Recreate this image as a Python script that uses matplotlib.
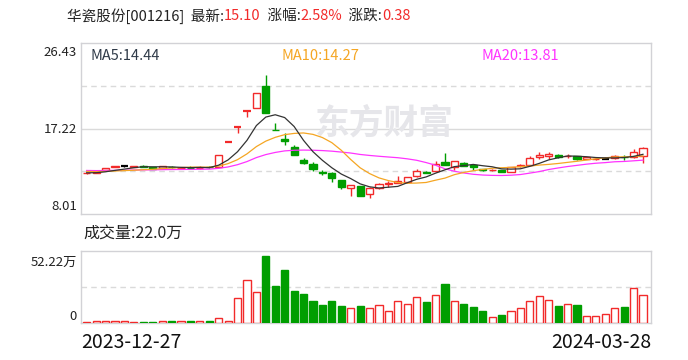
import matplotlib
matplotlib.use('Agg')
import matplotlib.pyplot as plt
import pandas as pd

plt.rcParams['font.family'] = ['Noto Sans CJK SC', 'DejaVu Sans']

# daily k-line, 2023-12-27 .. 2024-03-28 (60 trading days)
opens = [12.38, 12.45, 12.75, 13.12, 13.15, 13.12, 13.22, 13.04, 12.96, 13.10,
         12.92, 13.00, 12.98, 13.07, 13.07, 15.80, 17.38, 19.12, 19.40, 21.80,
         17.08, 16.09, 15.26, 13.83, 13.40, 12.54, 12.40, 11.64, 10.78, 11.06,
         10.16, 10.78, 11.24, 11.35, 11.46, 12.08, 12.56, 12.60, 13.61, 13.11,
         13.50, 13.28, 12.86, 12.72, 12.78, 12.56, 13.18, 13.28, 14.20, 14.26,
         14.32, 14.22, 14.26, 13.95, 13.92, 13.98, 14.02, 14.14, 14.10, 14.28]
highs = [12.44, 12.60, 12.98, 13.18, 13.25, 13.18, 13.28, 13.06, 13.20, 13.16,
         12.98, 13.20, 13.15, 13.22, 14.36, 15.80, 17.38, 19.12, 21.03, 23.00,
         17.78, 16.70, 15.44, 14.01, 13.58, 12.72, 12.57, 11.70, 11.10, 11.06,
         10.95, 11.39, 11.53, 12.05, 12.00, 12.89, 12.62, 13.72, 14.55, 13.70,
         13.60, 13.32, 12.90, 12.82, 12.80, 13.08, 13.40, 14.29, 14.74, 14.65,
         14.50, 14.50, 14.28, 14.12, 14.02, 14.20, 14.32, 14.40, 14.98, 15.28]
lows = [12.33, 12.40, 12.70, 13.10, 13.05, 13.08, 13.10, 12.85, 12.94, 13.00,
        12.88, 12.95, 12.90, 12.92, 13.05, 15.80, 16.70, 18.43, 19.40, 18.93,
        17.04, 15.44, 14.33, 13.36, 12.65, 12.21, 11.43, 10.70, 10.00, 9.98,
        9.77, 10.67, 10.92, 11.32, 11.40, 11.96, 12.42, 12.54, 13.30, 12.75,
        13.15, 12.72, 12.66, 12.68, 12.53, 12.54, 13.02, 13.26, 13.90, 13.90,
        14.00, 14.05, 13.88, 13.92, 13.88, 13.94, 13.98, 13.80, 14.08, 13.55]
closes = [12.42, 12.55, 12.96, 13.15, 13.15, 13.16, 13.12, 12.88, 13.18, 13.05,
          12.95, 12.98, 13.00, 13.05, 14.36, 15.80, 17.38, 19.12, 21.03, 18.93,
          17.04, 15.87, 14.33, 13.54, 12.83, 12.40, 11.86, 10.95, 11.10, 9.98,
          10.81, 11.21, 11.39, 11.53, 11.96, 12.65, 12.48, 13.42, 13.34, 13.68,
          13.21, 13.10, 12.72, 12.78, 12.55, 13.05, 13.30, 14.04, 14.38, 14.42,
          14.18, 14.30, 13.90, 14.10, 13.98, 13.98, 14.30, 14.10, 14.72, 15.10]
# volume in 万手
volumes = [0.5, 1.3, 1.3, 1.3, 1.3, 0.5, 0.5, 0.5, 1.3, 1.3,
           1.3, 1.3, 1.3, 1.3, 4.2, 1.8, 19.1, 33.2, 23.8, 52.22,
           28.7, 41.3, 24.8, 22.7, 17.0, 13.8, 17.0, 13.1, 12.0, 13.1,
           12.0, 13.6, 9.7, 16.7, 15.1, 19.8, 16.2, 21.4, 30.3, 16.7,
           14.6, 12.3, 9.1, 5.0, 6.0, 9.7, 12.0, 16.7, 20.6, 17.5,
           13.1, 14.4, 13.8, 5.7, 5.7, 7.3, 12.0, 12.3, 26.9, 22.0]
# closes before the window, only used so the MA lines start at day one
pre_closes = [12.85, 12.78, 12.82, 12.75, 12.80, 12.86, 12.78, 12.74, 12.80, 12.82,
              12.80, 12.72, 12.76, 12.70, 12.77, 12.52, 12.45, 12.40, 12.46]

first_date = '2023-12-27'
last_date = '2024-03-28'
price_ticks = [26.43, 17.22, 8.01]
vol_max_label = '52.22万'

RED = '#f22a2a'
GREEN = '#009e00'
MA_COLORS = {5: '#333333', 10: '#f5a623', 20: '#ff33ff'}
BORDER = '#d2d2d6'
GRID = '#dadada'

n = len(closes)
allc = pd.Series(pre_closes + closes)
ma = {k: allc.rolling(k).mean().values[len(pre_closes):] for k in (5, 10, 20)}

fig = plt.figure(figsize=(6.88, 3.6), dpi=100)
ax = fig.add_axes([81/688, 146/360, 570/688, 171/360])
axv = fig.add_axes([81/688, 37/360, 570/688, 72/360])

for a in (ax, axv):
    a.set_xticks([])
    a.set_yticks([])
    for s in a.spines.values():
        s.set_color(BORDER)
        s.set_linewidth(1.0)
    a.set_xlim(-0.6, n - 0.15)

ymin, ymax = 8.01, 26.43
ax.set_ylim(ymin, ymax)
mid = (ymin + ymax) / 2
ax.axhline(mid, color=GRID, lw=1.0, zorder=0)
ax.axhline((ymax + mid) / 2, color=GRID, lw=1.0, ls=(0, (4, 3)), zorder=0)
ax.axhline((ymin + mid) / 2, color=GRID, lw=1.0, ls=(0, (4, 3)), zorder=0)

vtop = 55.9
axv.set_ylim(0, vtop)
axv.axhline(vtop / 2, color=GRID, lw=1.0, ls=(0, (4, 3)), zorder=0)

w = 0.76
for i in range(n):
    o, h, l, c = opens[i], highs[i], lows[i], closes[i]
    prev = closes[i - 1] if i > 0 else pre_closes[-1]
    if c > o:
        ax.vlines(i, c, h, color=RED, lw=1.0, zorder=4)
        ax.vlines(i, l, o, color=RED, lw=1.0, zorder=4)
        ax.bar(i, c - o, bottom=o, width=w, facecolor='white', edgecolor=RED,
               lw=1.0, zorder=4)
        vcol = 'up'
    elif c < o:
        ax.vlines(i, l, h, color=GREEN, lw=1.0, zorder=4)
        ax.bar(i, o - c, bottom=c, width=w, color=GREEN, edgecolor=GREEN,
               lw=1.0, zorder=4)
        vcol = 'down'
    else:
        col = RED if c > prev else (GREEN if c < prev else 'black')
        ax.vlines(i, l, h, color=col, lw=1.0, zorder=4)
        ax.hlines(c, i - w / 2, i + w / 2, color=col, lw=1.6, zorder=4)
        vcol = 'down' if c < prev else 'up'
    if vcol == 'up':
        axv.bar(i, volumes[i], width=w, facecolor='white', edgecolor=RED,
                lw=1.0, zorder=3)
    else:
        axv.bar(i, volumes[i], width=w, color=GREEN, edgecolor=GREEN,
                lw=1.0, zorder=3)

x = list(range(n))
for k in (20, 10, 5):
    ax.plot(x, ma[k], color=MA_COLORS[k], lw=0.9, zorder=5)

# watermark
ax.text(0.533, 0.53, '东方财富', transform=ax.transAxes, fontsize=25,
        fontweight='bold', color='#e6e6ea', ha='center', va='center', zorder=1)

# MA legends
ax.text(0.0175, 0.924, 'MA5:%.2f' % ma[5][-1], transform=ax.transAxes,
        fontsize=10.5, color='#2f3a48', va='center')
ax.text(0.351, 0.924, 'MA10:%.2f' % ma[10][-1], transform=ax.transAxes,
        fontsize=10.5, color=MA_COLORS[10], va='center')
ax.text(0.702, 0.924, 'MA20:%.2f' % ma[20][-1], transform=ax.transAxes,
        fontsize=10.5, color=MA_COLORS[20], va='center')

# title line
chg = closes[-1] - closes[-2]
pct = chg / closes[-2] * 100
parts = [('华瓷股份[001216]  最新:', '#222222'), ('%.2f' % closes[-1], RED),
         ('  涨幅:', '#222222'), ('%.2f%%' % pct, RED),
         ('  涨跌:', '#222222'), ('%.2f' % chg, RED)]
fig.canvas.draw()
xpos = 67
for txt, col in parts:
    t = fig.text(xpos / 688, 1 - 16 / 360, txt, fontsize=10.5, color=col,
                 va='center', ha='left')
    bb = t.get_window_extent(renderer=fig.canvas.get_renderer())
    xpos += bb.width

# axis labels
lab = dict(fontsize=9.5, color='#222222', ha='right', va='center')
fig.text(77/688, 1 - 52/360, '%.2f' % price_ticks[0], **lab)
fig.text(77/688, 1 - 129/360, '%.2f' % price_ticks[1], **lab)
fig.text(77/688, 1 - 206/360, '%.2f' % price_ticks[2], **lab)
fig.text(77/688, 1 - 262/360, vol_max_label, **lab)
fig.text(77/688, 1 - 316/360, '0', **lab)

fig.text(83/688, 1 - 233/360, '成交量:%.1f万' % volumes[-1], fontsize=11.5,
         color='#222222', va='center')
fig.text(81/688, 1 - 343/360, first_date, fontsize=14, color='#111111',
         va='center', ha='left')
fig.text(651/688, 1 - 343/360, last_date, fontsize=14, color='#111111',
         va='center', ha='right')

fig.savefig('out.png', dpi=100)
